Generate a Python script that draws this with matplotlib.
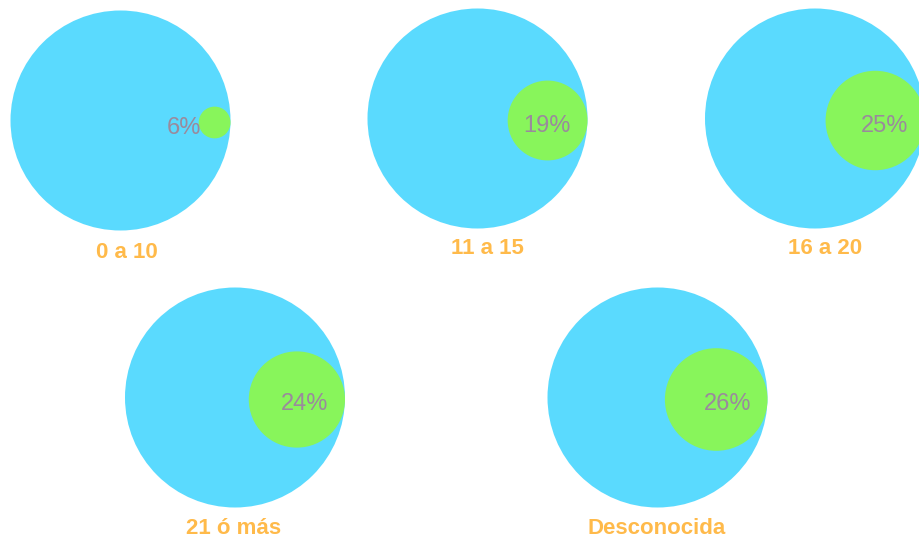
import matplotlib
matplotlib.use("Agg")
import matplotlib.pyplot as plt
from matplotlib.patches import Circle

# Data
categories = ["0 a 10", "11 a 15", "16 a 20", "21 ó más", "Desconocida"]
percentages = [6, 19, 25, 24, 26]

# Layout (pixel coordinates of a 920x542 canvas)
centers = [(120.5, 120.5), (477.5, 118.5), (815, 118.5), (235, 397.5), (657.5, 397.5)]
label_pos = [(127, 252), (487, 248), (825, 248), (234, 528), (657, 529)]
R = 110

BLUE = "#5ADAFE"
GREEN = "#88F55B"
PCT_COLOR = "#9A8A9C"
LABEL_COLOR = "#FFBA4A"

fig = plt.figure(figsize=(9.2, 5.42), dpi=100)
ax = fig.add_axes([0, 0, 1, 1])
ax.set_xlim(0, 920)
ax.set_ylim(542, 0)
ax.set_aspect("equal")
ax.axis("off")


def inner_radius(p):
    # inner disc radius grows with the share
    return 1.37 * (p / 100.0) ** 0.8 * R


for cat, p, (cx, cy), (lx, ly) in zip(categories, percentages, centers, label_pos):
    ax.add_patch(Circle((cx, cy), R, facecolor=BLUE, edgecolor="none"))
    r = inner_radius(p)
    gx = cx + R - r
    ax.add_patch(Circle((gx, cy + 2), r, facecolor=GREEN, edgecolor="none"))
    ax.text(cx + 0.42 * R, cy + 7, f"{p}%", color=PCT_COLOR, fontsize=17,
            family="Liberation Sans", ha="left", va="center")
    ax.text(lx, ly, cat, color=LABEL_COLOR, fontsize=16, fontweight="bold",
            family="Liberation Sans", ha="center", va="center")

fig.savefig("out.png", dpi=100)
